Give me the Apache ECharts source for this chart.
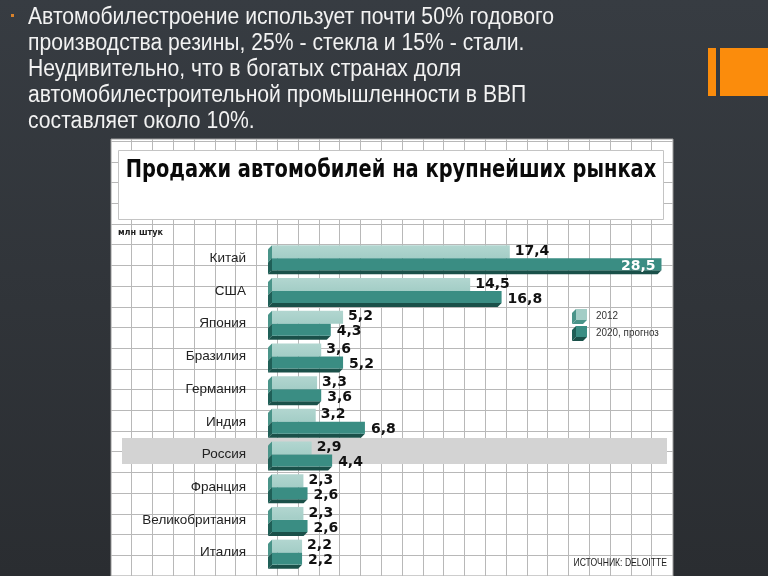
<!DOCTYPE html>
<html><head><meta charset="utf-8">
<script src="https://cdn.jsdelivr.net/npm/echarts@6/dist/echarts.min.js"></script>
<style>html,body{margin:0;padding:0;background:#30353a}#c{width:768px;height:576px}</style>
</head><body><div id="c"></div>
<script>
const categories = ['Китай','США','Япония','Бразилия','Германия','Индия','Россия','Франция','Великобритания','Италия'];
const sales2012 = [17.4, 14.5, 5.2, 3.6, 3.3, 3.2, 2.9, 2.3, 2.3, 2.2];
const sales2020 = [28.5, 16.8, 4.3, 5.2, 3.6, 6.8, 4.4, 2.6, 2.6, 2.2];
const seriesNames = ['2012', '2020, прогноз'];
const chartTitle = 'Продажи автомобилей на крупнейших рынках';
const unitLabel = 'млн штук';
const sourceLabel = 'ИСТОЧНИК: DELOITTE';
const highlightCategory = 'Россия';
const slideText = [
  'Автомобилестроение использует почти 50% годового',
  'производства резины, 25% - стекла и 15% - стали.',
  'Неудивительно, что в богатых странах доля',
  'автомобилестроительной промышленности в ВВП',
  'составляет около 10%.'
];

const chart = echarts.init(document.getElementById('c'), null, {renderer: 'canvas'});

const C = {
  face12: '#a3cdc6', bevel12: '#4a9489',
  face20: '#3a8d83', bevel20: '#1f5f57', bottom20: '#1a5049'
};
const LABEL_FONT = 'bold 14px "DejaVu Sans"';

function fmt(v){ return v.toFixed(1).replace('.', ','); }

function makeRender(which){
  return function(params, api){
    const v = api.value(0), ci = api.value(1);
    const c0 = api.coord([0, ci]), c1 = api.coord([v, ci]);
    const yc = c0[1], x0 = c0[0], x1 = c1[0];
    const d = 4;
    const ch = [];
    if (which === 0) {
      const top = yc - 13, bot = yc;
      ch.push({type:'polygon', shape:{points:[[x0-d,top+d],[x0,top],[x0,bot],[x0-d,bot+d]]}, style:{fill:C.bevel12}});
      ch.push({type:'rect', shape:{x:x0, y:top, width:x1-x0, height:bot-top},
        style:{fill:new echarts.graphic.LinearGradient(0,0,0,1,[{offset:0,color:'#b2d6d0'},{offset:1,color:C.face12}])}});
      ch.push({type:'text', style:{text:fmt(v), x:x1+5, y:yc-7, align:'left', verticalAlign:'middle', font:LABEL_FONT, fill:'#111'}});
    } else {
      const top = yc, bot = yc + 12;
      ch.push({type:'polygon', shape:{points:[[x0-d,top+d],[x0,top],[x0,bot],[x0-d,bot+d]]}, style:{fill:C.bevel20}});
      ch.push({type:'polygon', shape:{points:[[x0,bot],[x1,bot],[x1-d,bot+d],[x0-d,bot+d]]}, style:{fill:C.bottom20}});
      ch.push({type:'rect', shape:{x:x0, y:top, width:x1-x0, height:bot-top}, style:{fill:C.face20}});
      const inside = x1 + 40 > 672;
      ch.push({type:'text', style:{text:fmt(v), x: inside ? x1-6 : x1+6, y:yc+8,
        align: inside ? 'right' : 'left', verticalAlign:'middle', font:LABEL_FONT, fill: inside ? '#fff' : '#111'}});
    }
    return {type:'group', children:ch};
  };
}

// decorative graph-paper grid
const gridEls = [];
for (let k = -7; k <= 18; k++) {
  const x = Math.round(277 + 20.8*k) + 0.5;
  gridEls.push({type:'line', z:-9, shape:{x1:x, y1:139, x2:x, y2:576}, style:{stroke:'#b8b8b8', lineWidth:1}});
}
for (let k = -13; k <= 7; k++) {
  const y = Math.round(410 + 20.7*k) + 0.5;
  gridEls.push({type:'line', z:-9, shape:{x1:111, y1:y, x2:673, y2:y}, style:{stroke:'#b8b8b8', lineWidth:1}});
}

const hiIdx = categories.indexOf(highlightCategory);
const hiY = 258 + hiIdx*32.7;

function cube(x, y, face, bevel, bottom){
  return [
    {type:'polygon', z:5, shape:{points:[[x,y+4],[x+4,y],[x+4,y+11],[x,y+15]]}, style:{fill:bevel}},
    {type:'polygon', z:5, shape:{points:[[x+4,y+11],[x+15,y+11],[x+11,y+15],[x,y+15]]}, style:{fill:bottom}},
    {type:'rect', z:5, shape:{x:x+4, y:y, width:11, height:11}, style:{fill:face}}
  ];
}

function ntext(t, x, y, font, fill, sx, align, z){
  return {type:'text', z:z||5, x:x, y:y, scaleX:sx, style:{text:t, x:0, y:0, align:align||'left', verticalAlign:'middle', font:font, fill:fill}};
}

const graphics = [
  {type:'rect', z:-20, shape:{x:0,y:0,width:768,height:576},
    style:{fill:new echarts.graphic.LinearGradient(0,0,0,1,[{offset:0,color:'#373c42'},{offset:1,color:'#2a2d31'}])}},
  {type:'rect', z:-15, shape:{x:111,y:139,width:562,height:437}, style:{fill:'#ffffff', stroke:'#9a9a9a', lineWidth:1}},
  ...gridEls,
  {type:'rect', z:-8, shape:{x:118.5,y:150.5,width:545,height:69}, style:{fill:'#ffffff', stroke:'#c4c4c4', lineWidth:1}},
  ntext(chartTitle, 391, 171, 'bold 24px "DejaVu Sans"', '#0a0a0a', 0.81, 'center', -7),
  {type:'rect', z:-7, shape:{x:122, y:Math.round(hiY-16), width:545, height:26}, style:{fill:'#d3d3d3'}},
  {type:'text', z:5, style:{text:unitLabel, x:118, y:233, verticalAlign:'middle', font:'bold 9px "DejaVu Sans Condensed"', fill:'#222'}},
  ntext(sourceLabel, 667, 563, '10.5px "Liberation Sans"', '#222', 0.82, 'right'),
  ...cube(572, 309, C.face12, C.bevel12, C.bevel12),
  ...cube(572, 326, C.face20, C.bevel20, C.bottom20),
  ntext(seriesNames[0], 596, 316, '11px "Liberation Sans"', '#333', 0.9),
  ntext(seriesNames[1], 596, 333, '11px "Liberation Sans"', '#333', 0.9),
  {type:'rect', z:-5, shape:{x:11,y:14,width:3,height:3}, style:{fill:'#d9822b'}},
  {type:'rect', z:-5, shape:{x:708,y:48,width:8,height:48}, style:{fill:'#fb8c0c'}},
  {type:'rect', z:-5, shape:{x:720,y:48,width:48,height:48}, style:{fill:'#fb8c0c'}},
  ...slideText.map((t,i)=>ntext(t, 28, 18+26*i, '23px "Liberation Sans"', '#f2f2f2', 0.92, 'left', -5))
];

chart.setOption({
  animation:false,
  grid:{left:272, right:86, top:242, height:327},
  xAxis:{type:'value', min:0, max:30, show:false},
  yAxis:{type:'category', data:categories, inverse:true,
    axisLine:{show:false}, axisTick:{show:false}, splitLine:{show:false},
    axisLabel:{margin:26, fontSize:13.5, fontFamily:'Liberation Sans', color:'#222'}},
  graphic:{elements:graphics},
  series:[
    {type:'custom', name:seriesNames[0], renderItem:makeRender(0), encode:{x:0, y:1}, data:sales2012.map((v,i)=>[v,i]), z:3},
    {type:'custom', name:seriesNames[1], renderItem:makeRender(1), encode:{x:0, y:1}, data:sales2020.map((v,i)=>[v,i]), z:4}
  ]
});
</script></body></html>
